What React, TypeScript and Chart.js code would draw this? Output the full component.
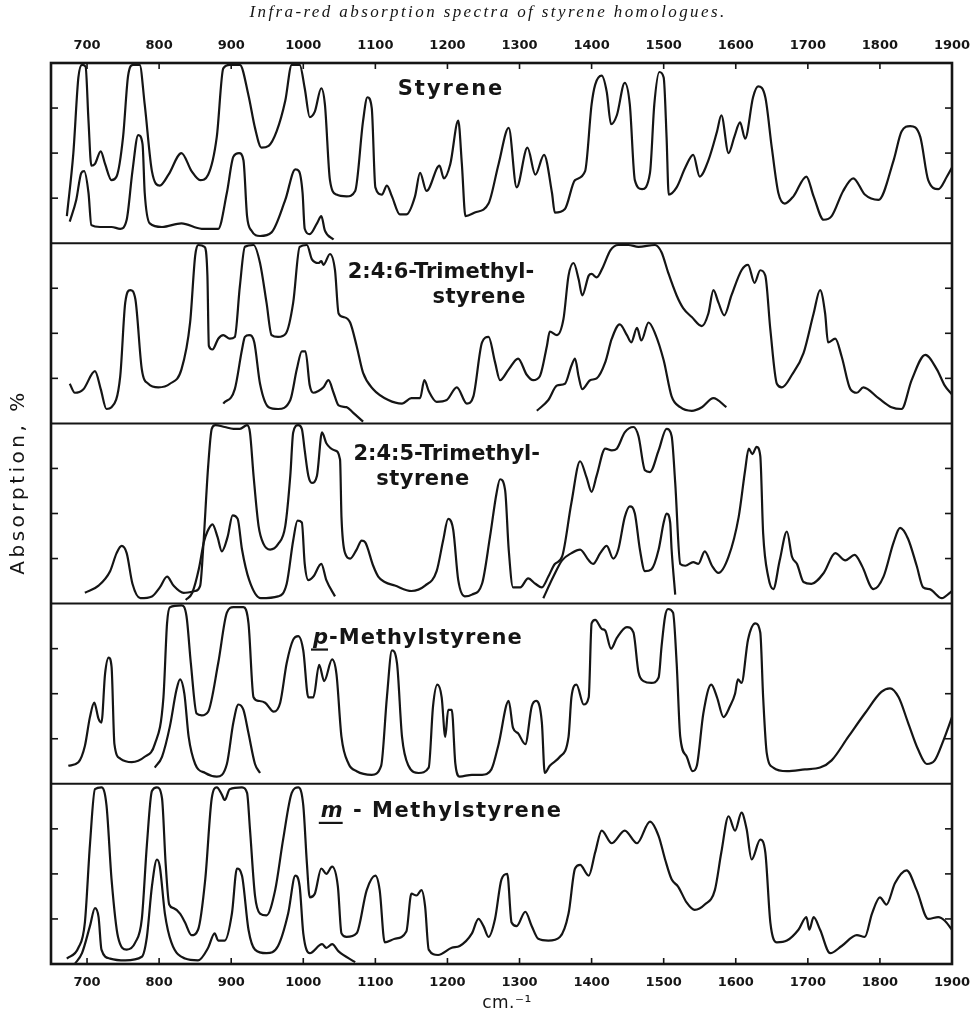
import React, { useEffect, useRef } from 'react';
import { Chart, registerables } from 'chart.js';

Chart.register(...registerables);

type Pt = [number, number];

// wavenumber ticks (cm^-1) and absorption ticks (%)
const X_TICKS = [700, 800, 900, 1000, 1100, 1200, 1300, 1400, 1500, 1600, 1700, 1800, 1900];
const Y_TICKS = [25, 50, 75];
const PANEL_AXES = ['y0', 'y1', 'y2', 'y3', 'y4'];

// ---- Styrene ----
const styreneThick: Pt[] = [[672,15],[681,50],[688,92],[693,99],[698,98],[702,68],[706,43],[711,44],[719,51],[725,44],[734,35],[741,37],[750,59],[757,93],[764,99],[773,99],[780,77],[790,40],[801,32],[813,38],[831,50],[845,40],[857,35],[868,38],[880,59],[889,97],[898,99],[912,99],[924,82],[933,64],[942,53],[952,54],[963,62],[975,79],[984,99],[995,99],[1002,86],[1009,70],[1016,73],[1025,86],[1030,77],[1037,35],[1046,27],[1060,26],[1072,29],[1083,68],[1089,81],[1095,75],[1100,31],[1109,27],[1116,32],[1123,26],[1134,16],[1143,16],[1155,26],[1162,39],[1171,29],[1189,43],[1195,36],[1204,44],[1215,68],[1220,44],[1225,15],[1238,17],[1257,22],[1271,44],[1285,64],[1296,31],[1311,53],[1322,38],[1334,49],[1345,28],[1349,17],[1363,19],[1377,35],[1391,40],[1400,77],[1405,88],[1414,93],[1421,84],[1427,66],[1435,71],[1446,89],[1453,77],[1460,35],[1470,30],[1481,39],[1487,77],[1494,95],[1500,92],[1504,59],[1507,27],[1518,31],[1530,42],[1541,49],[1550,37],[1562,46],[1574,62],[1580,71],[1590,50],[1598,59],[1606,67],[1613,58],[1624,81],[1631,87],[1641,81],[1650,53],[1659,28],[1668,22],[1680,26],[1698,37],[1708,26],[1722,13],[1733,15],[1749,29],[1763,36],[1779,27],[1798,24],[1819,46],[1830,62],[1842,65],[1856,59],[1867,35],[1881,30],[1893,37],[1900,42]];
const styreneThin: Pt[] = [[676,12],[685,24],[692,39],[696,40],[702,28],[706,10],[718,9],[734,9],[746,8],[755,13],[763,40],[771,60],[777,55],[780,28],[787,11],[804,9],[831,11],[859,8],[882,8],[894,28],[903,48],[911,50],[917,46],[922,15],[928,7],[940,4],[956,6],[975,24],[989,41],[994,40],[999,28],[1002,8],[1009,5],[1019,11],[1025,15],[1030,7],[1042,2]];

// ---- 2:4:6-Trimethylstyrene ----
const tms246Thick: Pt[] = [[676,22],[683,17],[695,19],[711,29],[719,19],[727,8],[734,9],[746,26],[753,67],[760,74],[767,69],[776,30],[785,22],[799,20],[815,22],[831,30],[843,56],[850,93],[854,99],[863,98],[867,82],[869,43],[874,41],[882,47],[889,49],[898,47],[905,48],[912,76],[919,98],[931,99],[940,89],[949,67],[956,49],[965,48],[976,50],[986,67],[995,98],[1005,99],[1012,91],[1021,89],[1025,90],[1028,88],[1037,94],[1044,85],[1049,61],[1056,59],[1065,56],[1074,43],[1083,28],[1097,19],[1118,13],[1137,11],[1150,14],[1162,14],[1168,24],[1174,18],[1185,12],[1199,13],[1213,20],[1227,11],[1236,15],[1248,45],[1257,48],[1266,34],[1273,24],[1285,30],[1298,36],[1310,27],[1319,24],[1328,26],[1338,43],[1342,51],[1352,49],[1361,58],[1368,82],[1375,89],[1382,80],[1387,71],[1396,82],[1400,83],[1407,81],[1416,87],[1426,96],[1437,99],[1451,99],[1465,98],[1488,99],[1497,95],[1506,84],[1518,71],[1527,64],[1539,59],[1553,54],[1562,61],[1569,74],[1576,67],[1584,60],[1594,71],[1608,85],[1617,88],[1626,78],[1634,85],[1641,82],[1648,52],[1657,22],[1664,20],[1678,27],[1694,39],[1708,61],[1717,74],[1724,61],[1728,45],[1738,47],[1747,37],[1759,19],[1768,17],[1777,20],[1798,14],[1816,9],[1830,8],[1844,24],[1863,38],[1879,30],[1890,21],[1900,16]];
const tms246ThinA: Pt[] = [[889,11],[905,19],[915,41],[919,48],[925,49],[932,45],[940,22],[952,9],[965,8],[982,13],[991,30],[998,40],[1003,40],[1009,21],[1014,17],[1021,18],[1028,20],[1035,24],[1042,17],[1049,10],[1060,9],[1069,6],[1083,1]];
const tms246ThinB: Pt[] = [[1324,7],[1340,13],[1352,21],[1363,22],[1372,32],[1377,36],[1382,26],[1387,19],[1398,24],[1407,25],[1419,34],[1428,47],[1439,55],[1449,49],[1455,45],[1463,53],[1469,46],[1479,56],[1488,50],[1500,35],[1511,15],[1523,9],[1539,7],[1553,9],[1569,14],[1587,9]];

// ---- 2:4:5-Trimethylstyrene ----
const tms245Thick: Pt[] = [[697,6],[716,10],[732,18],[741,28],[748,32],[755,28],[763,11],[774,3],[790,4],[801,9],[811,15],[820,10],[834,6],[850,7],[857,10],[861,30],[868,76],[873,97],[878,99],[891,98],[903,97],[912,97],[922,99],[926,95],[931,71],[938,43],[945,33],[954,30],[965,33],[975,43],[982,71],[986,95],[993,99],[998,97],[1002,85],[1007,71],[1012,67],[1019,71],[1026,95],[1032,89],[1044,85],[1051,80],[1053,48],[1058,28],[1065,25],[1074,30],[1081,35],[1086,34],[1097,21],[1104,15],[1113,12],[1127,10],[1150,7],[1169,10],[1185,18],[1194,35],[1201,47],[1208,41],[1215,13],[1224,4],[1234,5],[1248,11],[1259,37],[1268,61],[1273,69],[1280,63],[1285,30],[1291,9],[1301,9],[1312,14],[1322,11],[1331,9],[1340,15],[1349,22],[1359,26],[1372,56],[1384,79],[1393,70],[1400,62],[1407,71],[1419,86],[1428,85],[1435,86],[1446,95],[1458,98],[1465,93],[1474,74],[1481,73],[1493,85],[1504,97],[1511,93],[1516,67],[1523,22],[1530,21],[1541,23],[1548,22],[1557,29],[1567,21],[1576,17],[1590,26],[1604,48],[1613,74],[1618,86],[1623,83],[1629,87],[1634,82],[1638,39],[1645,15],[1652,8],[1661,24],[1671,40],[1678,26],[1685,22],[1694,12],[1705,11],[1722,17],[1738,28],[1752,24],[1765,27],[1775,21],[1791,8],[1805,15],[1819,34],[1828,42],[1839,36],[1851,21],[1860,9],[1869,8],[1886,3],[1897,6],[1900,7]];
const tms245ThinA: Pt[] = [[837,2],[846,6],[855,19],[862,34],[867,40],[874,44],[881,37],[887,29],[895,37],[902,49],[909,47],[915,30],[925,13],[941,3],[965,4],[977,11],[986,35],[992,46],[998,45],[1002,22],[1007,13],[1014,15],[1025,22],[1032,13],[1044,4]];
const tms245ThinB: Pt[] = [[1333,3],[1347,15],[1359,24],[1372,28],[1384,30],[1396,24],[1402,22],[1412,28],[1421,32],[1430,25],[1437,30],[1446,48],[1453,54],[1460,50],[1467,30],[1474,18],[1483,19],[1493,30],[1500,45],[1504,50],[1509,45],[1511,30],[1516,5]];

// ---- p-Methylstyrene ----
const pmsThick: Pt[] = [[674,10],[688,12],[697,21],[704,37],[710,45],[716,36],[720,34],[725,61],[730,70],[734,65],[738,22],[746,14],[762,12],[780,15],[794,22],[806,48],[811,89],[815,98],[831,99],[838,93],[844,67],[852,39],[859,38],[868,40],[882,67],[894,95],[903,98],[917,98],[924,89],[931,48],[938,46],[947,45],[959,40],[968,45],[977,67],[986,80],[993,82],[1000,74],[1007,48],[1014,48],[1022,66],[1029,57],[1040,69],[1046,61],[1053,26],[1063,11],[1074,7],[1095,5],[1108,10],[1116,48],[1123,74],[1130,67],[1137,26],[1146,10],[1160,6],[1174,9],[1180,43],[1186,55],[1192,48],[1197,26],[1201,41],[1206,41],[1211,11],[1217,4],[1234,5],[1248,5],[1261,8],[1271,22],[1285,46],[1291,31],[1298,28],[1308,22],[1317,43],[1323,46],[1331,34],[1335,6],[1342,10],[1356,15],[1368,26],[1372,48],[1379,55],[1389,44],[1396,48],[1400,89],[1405,91],[1414,86],[1419,85],[1427,75],[1435,81],[1449,87],[1458,84],[1465,62],[1472,57],[1483,56],[1493,59],[1497,76],[1502,93],[1506,97],[1513,95],[1518,67],[1523,26],[1532,15],[1540,7],[1546,10],[1555,39],[1566,55],[1574,48],[1583,37],[1592,43],[1599,50],[1603,58],[1608,56],[1617,80],[1627,89],[1634,84],[1638,48],[1643,17],[1652,9],[1671,7],[1696,8],[1717,9],[1733,13],[1756,26],[1779,39],[1802,51],[1814,53],[1826,48],[1839,34],[1853,19],[1865,11],[1876,13],[1888,24],[1900,37]];
const pmsThin: Pt[] = [[794,9],[804,15],[815,32],[824,52],[829,58],[835,50],[841,26],[850,11],[864,6],[880,4],[894,11],[903,34],[910,44],[917,41],[924,28],[933,11],[940,6]];

// ---- m-Methylstyrene ----
const mmsThick: Pt[] = [[672,3],[688,9],[697,23],[704,66],[711,97],[720,98],[727,88],[734,47],[743,15],[755,8],[767,12],[776,25],[783,66],[790,96],[797,98],[804,92],[809,56],[814,33],[820,31],[829,28],[836,23],[845,16],[854,19],[864,47],[873,92],[880,98],[887,94],[891,91],[898,97],[915,98],[922,95],[926,75],[933,38],[940,28],[949,27],[961,41],[972,69],[984,95],[993,98],[1000,88],[1005,56],[1009,37],[1016,39],[1025,53],[1032,50],[1040,54],[1048,43],[1053,17],[1060,15],[1074,17],[1088,41],[1100,49],[1106,41],[1113,12],[1127,14],[1143,18],[1150,39],[1157,38],[1164,41],[1169,32],[1174,8],[1187,5],[1206,9],[1217,10],[1234,17],[1243,25],[1250,21],[1257,15],[1266,25],[1275,47],[1283,50],[1289,23],[1296,21],[1308,29],[1317,21],[1326,14],[1340,13],[1356,15],[1368,28],[1377,53],[1384,55],[1396,49],[1405,62],[1414,74],[1428,67],[1446,74],[1463,67],[1481,79],[1493,71],[1502,58],[1511,47],[1520,43],[1532,34],[1543,30],[1557,33],[1571,41],[1580,62],[1590,82],[1599,74],[1608,84],[1615,75],[1622,58],[1634,69],[1641,62],[1648,23],[1657,12],[1671,13],[1687,19],[1698,26],[1702,19],[1708,26],[1717,19],[1731,6],[1747,10],[1768,16],[1779,15],[1789,28],[1800,37],[1809,33],[1821,45],[1837,52],[1851,41],[1867,25],[1881,26],[1890,24],[1900,19]];
const mmsThin: Pt[] = [[683,0],[693,6],[704,21],[711,31],[716,26],[720,8],[732,3],[753,2],[776,4],[783,15],[790,43],[797,58],[801,54],[808,28],[817,12],[836,3],[854,2],[868,9],[877,17],[882,13],[891,13],[901,28],[908,53],[915,49],[924,19],[933,8],[949,6],[965,10],[979,28],[989,49],[995,43],[1000,17],[1009,6],[1026,11],[1032,9],[1040,11],[1049,7],[1072,1]];

const SERIES: { data: Pt[]; panel: number }[] = [
  { data: styreneThick, panel: 0 },
  { data: styreneThin, panel: 0 },
  { data: tms246Thick, panel: 1 },
  { data: tms246ThinA, panel: 1 },
  { data: tms246ThinB, panel: 1 },
  { data: tms245Thick, panel: 2 },
  { data: tms245ThinA, panel: 2 },
  { data: tms245ThinB, panel: 2 },
  { data: pmsThick, panel: 3 },
  { data: pmsThin, panel: 3 },
  { data: mmsThick, panel: 4 },
  { data: mmsThin, panel: 4 },
];

// panel captions anchored in data units (cm^-1, %) of their panel
const PANEL_LABELS = [
  { panel: 0, x: 1205, y: 85, pre: '', text: 'Styrene', sp: 2 },
  { panel: 1, x: 1191, y: 83.5, pre: '', text: '2:4:6-Trimethyl-', sp: 0 },
  { panel: 1, x: 1244, y: 69.6, pre: '', text: 'styrene', sp: 0.5 },
  { panel: 2, x: 1199, y: 82.8, pre: '', text: '2:4:5-Trimethyl-', sp: 0 },
  { panel: 2, x: 1166, y: 68.9, pre: '', text: 'styrene', sp: 0.5 },
  { panel: 3, x: 1159, y: 80.6, pre: 'p', text: '-Methylstyrene', sp: 1 },
  { panel: 4, x: 1192, y: 84.4, pre: 'm', text: ' - Methylstyrene', sp: 1.5 },
];

const INK = '#151515';
const LABEL_FONT = 'bold 21px "DejaVu Sans"';

const decorPlugin = {
  id: 'decor',
  afterDatasetsDraw(chart: any) {
    const { ctx, chartArea: a, scales } = chart;
    const xs = scales.x;
    const seg = (x1: number, y1: number, x2: number, y2: number) => {
      ctx.beginPath();
      ctx.moveTo(x1, y1);
      ctx.lineTo(x2, y2);
      ctx.stroke();
    };
    ctx.save();
    ctx.strokeStyle = INK;
    ctx.lineCap = 'butt';
    ctx.lineWidth = 2;
    for (let i = 1; i < PANEL_AXES.length; i++) {
      const py = scales[PANEL_AXES[i]].getPixelForValue(100);
      seg(a.left, py, a.right, py);
    }
    ctx.lineWidth = 1.6;
    PANEL_AXES.forEach((id) => {
      const s = scales[id];
      Y_TICKS.forEach((v) => {
        const py = s.getPixelForValue(v);
        seg(a.left, py, a.left + 7, py);
        seg(a.right - 7, py, a.right, py);
      });
    });
    X_TICKS.forEach((v) => {
      if (v >= 1900) return;
      const px = xs.getPixelForValue(v);
      seg(px, a.top, px, a.top + 6);
      seg(px, a.bottom, px, a.bottom - 6);
    });
    ctx.lineWidth = 2.6;
    ctx.strokeRect(a.left, a.top, a.right - a.left, a.bottom - a.top);
    ctx.restore();
  },
  afterDraw(chart: any) {
    const { ctx, scales } = chart;
    ctx.save();
    ctx.fillStyle = INK;
    ctx.strokeStyle = INK;
    ctx.textBaseline = 'middle';

    // title
    ctx.font = 'italic 17px "Liberation Serif"';
    (ctx as any).letterSpacing = '2.4px';
    ctx.textAlign = 'center';
    ctx.fillText('Infra-red absorption spectra of styrene homologues.', 488, 13);

    // panel captions
    PANEL_LABELS.forEach((lab) => {
      (ctx as any).letterSpacing = lab.sp + 'px';
      const cx = scales.x.getPixelForValue(lab.x);
      const cy = scales[PANEL_AXES[lab.panel]].getPixelForValue(lab.y);
      ctx.textAlign = 'left';
      ctx.font = 'italic ' + LABEL_FONT;
      const wPre = lab.pre ? ctx.measureText(lab.pre).width : 0;
      ctx.font = LABEL_FONT;
      const wText = ctx.measureText(lab.text).width;
      let x0 = cx - (wPre + wText) / 2;
      if (lab.pre) {
        ctx.font = 'italic ' + LABEL_FONT;
        ctx.fillText(lab.pre, x0, cy);
        ctx.lineWidth = 2.2;
        ctx.beginPath();
        ctx.moveTo(x0 - 2, cy + 11);
        ctx.lineTo(x0 + wPre - lab.sp, cy + 11);
        ctx.stroke();
        x0 += wPre;
      }
      ctx.font = LABEL_FONT;
      ctx.fillText(lab.text, x0, cy);
    });

    // axis titles
    (ctx as any).letterSpacing = '3.5px';
    ctx.textAlign = 'center';
    ctx.font = '20px "DejaVu Sans"';
    ctx.save();
    ctx.translate(19, 482);
    ctx.rotate(-Math.PI / 2);
    ctx.fillText('Absorption, %', 0, 0);
    ctx.restore();
    (ctx as any).letterSpacing = '0.5px';
    ctx.font = '17px "DejaVu Sans"';
    ctx.fillText('cm.\u207B\u00B9', 507, 1004);
    ctx.restore();
  },
};

const xAxisBase = (position: 'top' | 'bottom', height: number, padding: number) => ({
  type: 'linear' as const,
  position,
  min: 650,
  max: 1900,
  grid: { display: false, drawTicks: false },
  border: { display: false },
  afterBuildTicks: (s: any) => {
    s.ticks = X_TICKS.map((v) => ({ value: v }));
  },
  afterFit: (s: any) => {
    s.height = height;
    s.paddingLeft = 0;
    s.paddingRight = 0;
  },
  ticks: {
    autoSkip: false,
    maxRotation: 0,
    padding,
    color: INK,
    font: { family: '"DejaVu Sans"', size: 13, weight: 'bold' as const },
    callback: (v: any) => String(v),
  },
});

const yAxis = () => ({
  type: 'linear' as const,
  position: 'left' as const,
  stack: 'panels',
  stackWeight: 1,
  min: 0,
  max: 100,
  grid: { display: false, drawTicks: false },
  border: { display: false },
  ticks: { display: false },
  afterFit: (s: any) => {
    s.width = 51;
    s.paddingTop = 0;
    s.paddingBottom = 0;
  },
});

export default function App() {
  const ref = useRef<HTMLCanvasElement | null>(null);
  useEffect(() => {
    document.body.style.margin = '0';
    if (!ref.current) return;
    const chart = new Chart(ref.current, {
      type: 'line',
      data: {
        datasets: SERIES.map((s) => ({
          data: s.data.map(([x, y]) => ({ x, y })),
          xAxisID: 'x',
          yAxisID: PANEL_AXES[s.panel],
          borderColor: INK,
          borderWidth: 2.2,
          pointRadius: 0,
          fill: false,
          cubicInterpolationMode: 'monotone' as const,
        })),
      },
      options: {
        responsive: false,
        maintainAspectRatio: false,
        animation: false,
        parsing: false as any,
        normalized: true,
        layout: { padding: { top: 0, left: 0, right: 22, bottom: 0 } },
        plugins: {
          legend: { display: false },
          tooltip: { enabled: false },
          title: { display: false },
        },
        scales: {
          x: xAxisBase('bottom', 56, 11),
          xTop: xAxisBase('top', 63, 10),
          y4: yAxis(),
          y3: yAxis(),
          y2: yAxis(),
          y1: yAxis(),
          y0: yAxis(),
        } as any,
      },
      plugins: [decorPlugin],
    });
    return () => chart.destroy();
  }, []);
  return (
    <div style={{ position: 'absolute', left: 0, top: 0, width: 974, height: 1020, background: '#fff' }}>
      <canvas ref={ref} width={974} height={1020} style={{ display: 'block' }} />
    </div>
  );
}
